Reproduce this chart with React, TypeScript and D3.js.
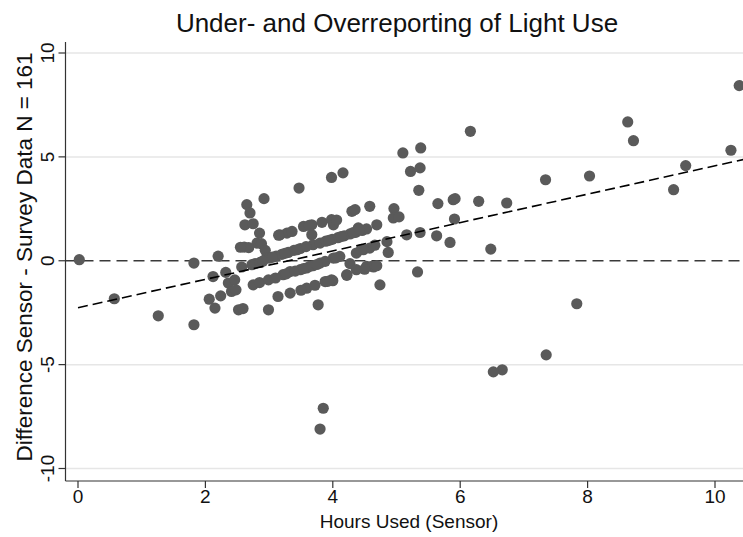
import React, { useEffect, useRef } from "react";
import * as d3 from "d3";

const title = "Under- and Overreporting of Light Use";
const xLabel = "Hours Used (Sensor)";
const yLabel = "Difference Sensor - Survey Data N = 161";
const xTicks = [0, 2, 4, 6, 8, 10];
const yTicks = [-10, -5, 0, 5, 10];
const gridValues = [-10, -5, 5, 10];
const fitIntercept = -2.26;
const fitSlope = 0.683;

const hoursSensor = [
  0.02, 0.57, 1.26, 1.82, 1.82, 2.2, 2.12, 2.32, 2.36, 2.46,
  2.41, 2.48, 2.06, 2.15, 2.24, 2.52, 2.59, 2.99, 2.75, 2.85,
  2.99, 2.57, 2.73, 2.78, 2.86, 2.61, 2.81, 2.88, 2.94, 2.96,
  2.62, 2.75, 2.85, 2.65, 2.7, 2.92, 3.47, 3.98, 4.16, 3.17,
  3.28, 3.54, 3.67, 3.83, 3.98, 4.01, 3.67, 3.69, 4.3, 4.35,
  4.58, 4.4, 4.69, 3.01, 3.11, 3.2, 3.3, 3.39, 3.49, 3.58,
  3.8, 3.89, 3.99, 4.08, 4.18, 4.27, 4.36, 4.46, 4.53, 4.66,
  4.85, 4.64, 4.87, 5.16, 5.37, 5.63, 5.84, 5.33, 4.74, 6.16,
  5.1, 5.38, 5.22, 5.37, 5.35, 4.96, 4.95, 5.04, 5.65, 5.89,
  5.92, 5.91, 6.29, 6.73, 6.48, 7.34, 8.03, 8.63, 8.72, 9.35,
  9.54, 10.25, 10.38, 7.83, 7.35, 6.66, 6.52, 3.85, 3.8, 4.58,
  4.37, 4.48, 3.22, 3.33, 3.49, 3.59, 3.64, 3.69, 3.8, 3.88,
  4.01, 4.11, 4.22, 4.27, 4.37, 4.53, 4.61, 4.69, 3.88, 3.98,
  4.0, 3.59, 3.14, 3.33, 3.77, 3.05, 3.25, 3.44, 3.94, 4.13,
  4.32, 4.42, 3.27, 3.41, 3.54, 3.75, 4.05, 4.45, 3.15, 3.36,
  3.63, 2.68, 2.9, 3.1, 3.72, 3.92, 4.22, 4.5, 3.5, 4.06,
  2.55
];

const difference = [
  0.05, -1.83, -2.65, -3.08, -0.11, 0.22, -0.76, -0.56, -1.07, -0.92,
  -1.48, -1.4, -1.85, -2.28, -1.69, -2.36, -2.3, -2.36, -1.16, -1.05,
  -0.92, -0.3, -0.19, -0.14, -0.08, 0.66, 0.85, 0.82, 0.5, 0.13,
  1.73, 1.78, 1.33, 2.7, 2.3, 2.99, 3.5, 4.01, 4.23, 1.25,
  1.33, 1.65, 1.73, 1.85, 1.98, 1.73, 1.25, 0.77, 2.38, 2.46,
  2.62, 1.58, 1.73, 0.13, 0.22, 0.31, 0.4, 0.5, 0.59, 0.68,
  0.85, 0.94, 1.03, 1.11, 1.2, 1.29, 1.37, 1.46, 1.53, 0.75,
  0.92, -0.3, 0.4, 1.25, 1.36, 1.2, 0.88, -0.54, -1.16, 6.23,
  5.19, 5.43, 4.3, 4.47, 3.39, 2.51, 2.06, 2.11, 2.75, 2.94,
  2.99, 2.01, 2.86, 2.78, 0.56, 3.9, 4.08, 6.68, 5.78, 3.42,
  4.58, 5.32, 8.43, -2.07, -4.53, -5.25, -5.35, -7.1, -8.1, 0.61,
  0.37, 0.53, -0.67, -0.52, -0.43, -0.35, -0.27, -0.24, -0.11, -0.03,
  0.13, 0.21, -0.67, -0.14, -0.43, -0.27, -0.27, -0.24, -1.0, -0.92,
  -0.96, -1.32, -1.72, -1.56, -2.12, 0.17, 0.36, 0.53, 0.98, 1.16,
  1.35, 1.5, -0.63, -0.5, -0.38, -0.18, 0.14, 0.55, 1.23, 1.41,
  1.7, 0.63, -0.02, -0.83, -1.18, -0.99, -0.7, -0.41, -1.42, 1.96,
  0.65
];

export default function App() {
  const ref = useRef<SVGSVGElement | null>(null);

  useEffect(() => {
    const W = 743;
    const H = 537;
    const svg = d3.select(ref.current);
    svg.selectAll("*").remove();

    const x = d3.scaleLinear().domain([0, 10]).range([78, 715]);
    const y = d3.scaleLinear().domain([-10, 10]).range([468.5, 53]);
    const left = 65.5;
    const bottom = 481;
    const top = 42;
    const right = W;
    const font = "'Liberation Sans', Arial, Helvetica, sans-serif";

    svg.append("rect").attr("width", W).attr("height", H).attr("fill", "#ffffff");

    // grid lines
    svg
      .append("g")
      .selectAll("line")
      .data(gridValues)
      .join("line")
      .attr("x1", left)
      .attr("x2", right)
      .attr("y1", (d) => y(d))
      .attr("y2", (d) => y(d))
      .attr("stroke", "#e6e6e6")
      .attr("stroke-width", 1.5);

    // zero reference line
    svg
      .append("line")
      .attr("x1", left)
      .attr("x2", right)
      .attr("y1", y(0))
      .attr("y2", y(0))
      .attr("stroke", "#3a3a3a")
      .attr("stroke-width", 1.6)
      .attr("stroke-dasharray", "11,6");

    // points
    const pts = hoursSensor.map((h, i) => [h, difference[i]] as [number, number]);
    svg
      .append("g")
      .selectAll("circle")
      .data(pts)
      .join("circle")
      .attr("cx", (d) => x(d[0]))
      .attr("cy", (d) => y(d[1]))
      .attr("r", 5.6)
      .attr("fill", "#5a5a5a");

    // fit line
    const fitX = [0, 10.45];
    svg
      .append("path")
      .datum(fitX)
      .attr(
        "d",
        d3
          .line<number>()
          .x((d) => x(d))
          .y((d) => y(fitIntercept + fitSlope * d))
      )
      .attr("fill", "none")
      .attr("stroke", "#000000")
      .attr("stroke-width", 1.6)
      .attr("stroke-dasharray", "10,5");

    // axes lines
    svg
      .append("line")
      .attr("x1", left)
      .attr("x2", left)
      .attr("y1", top)
      .attr("y2", bottom)
      .attr("stroke", "#333")
      .attr("stroke-width", 1.2);
    svg
      .append("line")
      .attr("x1", left)
      .attr("x2", right)
      .attr("y1", bottom)
      .attr("y2", bottom)
      .attr("stroke", "#333")
      .attr("stroke-width", 1.2);

    // y ticks
    const yt = svg.append("g");
    yt.selectAll("line")
      .data(yTicks)
      .join("line")
      .attr("x1", left - 7)
      .attr("x2", left)
      .attr("y1", (d) => y(d))
      .attr("y2", (d) => y(d))
      .attr("stroke", "#333")
      .attr("stroke-width", 1.2);
    yt.selectAll("text")
      .data(yTicks)
      .join("text")
      .attr("transform", (d) => `translate(${left - 12},${y(d)}) rotate(-90)`)
      .attr("text-anchor", "middle")
      .attr("font-family", font)
      .attr("font-size", 19)
      .attr("fill", "#111")
      .text((d) => String(d));

    // x ticks
    const xt = svg.append("g");
    xt.selectAll("line")
      .data(xTicks)
      .join("line")
      .attr("x1", (d) => x(d))
      .attr("x2", (d) => x(d))
      .attr("y1", bottom)
      .attr("y2", bottom + 7)
      .attr("stroke", "#333")
      .attr("stroke-width", 1.2);
    xt.selectAll("text")
      .data(xTicks)
      .join("text")
      .attr("x", (d) => x(d))
      .attr("y", bottom + 22)
      .attr("text-anchor", "middle")
      .attr("font-family", font)
      .attr("font-size", 19)
      .attr("fill", "#111")
      .text((d) => String(d));

    // title & labels
    svg
      .append("text")
      .attr("x", 397)
      .attr("y", 32)
      .attr("text-anchor", "middle")
      .attr("font-family", font)
      .attr("font-size", 26)
      .attr("fill", "#111")
      .text(title);
    svg
      .append("text")
      .attr("x", 409)
      .attr("y", 528)
      .attr("text-anchor", "middle")
      .attr("font-family", font)
      .attr("font-size", 19)
      .attr("fill", "#111")
      .text(xLabel);
    svg
      .append("text")
      .attr("transform", `translate(32,${257}) rotate(-90)`)
      .attr("text-anchor", "middle")
      .attr("font-family", font)
      .attr("font-size", 22.5)
      .attr("fill", "#111")
      .text(yLabel);
  }, []);

  return (
    <svg
      ref={ref}
      width={743}
      height={537}
      style={{ position: "absolute", left: 0, top: 0, display: "block" }}
    />
  );
}
